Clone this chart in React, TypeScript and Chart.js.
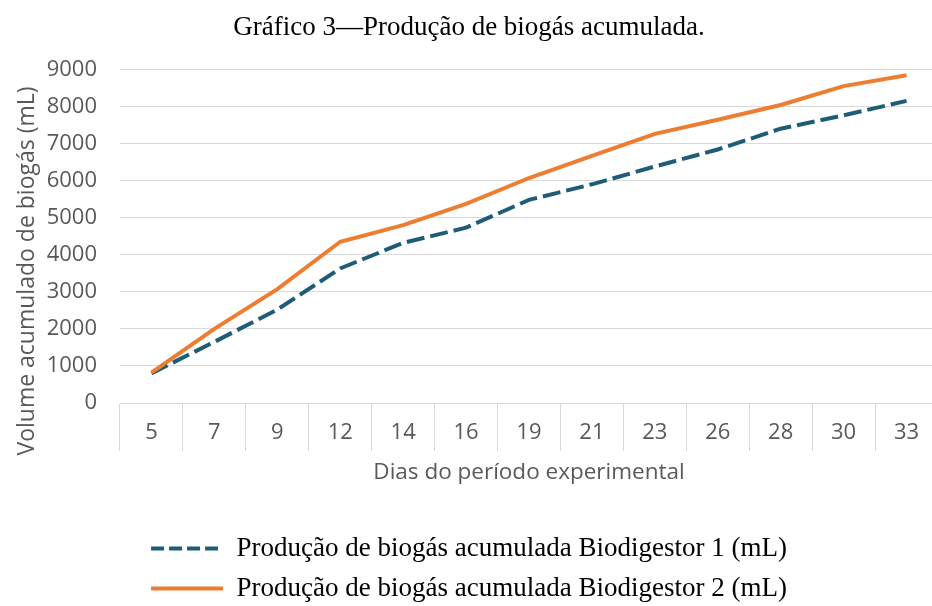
import React, { useEffect, useRef } from "react";
import { Chart, registerables } from "chart.js";

Chart.register(...registerables);

const days = ["5", "7", "9", "12", "14", "16", "19", "21", "23", "26", "28", "30", "33"];
const biodigestor1 = [800, 1650, 2520, 3630, 4320, 4730, 5480, 5900, 6380, 6840, 7400, 7760, 8150];
const biodigestor2 = [820, 2000, 3070, 4350, 4800, 5370, 6070, 6670, 7260, 7640, 8040, 8550, 8840];
const seriesNames = [
  "Produção de biogás acumulada Biodigestor 1 (mL)",
  "Produção de biogás acumulada Biodigestor 2 (mL)",
];
const chartTitle = "Gráfico 3—Produção de biogás acumulada.";
const xTitle = "Dias do período experimental";
const yTitle = "Volume acumulado de biogás (mL)";

const GRAY = "#595959";
const GRID = "#d9d9d9";
const BLUE = "#1E5C77";
const ORANGE = "#ED7D31";
const SANS = "'Open Sans', sans-serif";
const SERIF = "'Liberation Serif', 'Times New Roman', serif";

const yTitlePlugin = {
  id: "yTitlePlugin",
  afterDraw(chart: any) {
    const ctx = chart.ctx;
    ctx.save();
    ctx.translate(27, 271);
    ctx.rotate(-Math.PI / 2);
    ctx.font = `normal 23px ${SANS}`;
    ctx.fillStyle = GRAY;
    ctx.textAlign = "center";
    ctx.textBaseline = "middle";
    ctx.fillText(yTitle, 0, 0);
    ctx.restore();
  },
};

export default function App() {
  const ref = useRef<HTMLCanvasElement | null>(null);

  useEffect(() => {
    document.body.style.margin = "0";
    document.body.style.overflow = "hidden";
    const canvas = ref.current;
    if (!canvas) return;
    const chart = new Chart(canvas, {
      type: "line",
      data: {
        labels: days,
        datasets: [
          {
            label: seriesNames[0],
            data: biodigestor1,
            borderColor: BLUE,
            backgroundColor: BLUE,
            borderWidth: 4,
            borderDash: [18, 6],
            pointRadius: 0,
            tension: 0,
            order: 1,
          },
          {
            label: seriesNames[1],
            data: biodigestor2,
            borderColor: ORANGE,
            backgroundColor: ORANGE,
            borderWidth: 4,
            pointRadius: 0,
            tension: 0,
            order: 0,
          },
        ],
      },
      plugins: [yTitlePlugin],
      options: {
        animation: false,
        responsive: false,
        maintainAspectRatio: false,
        layout: { padding: { left: 0, right: 2, top: 0, bottom: 0 } },
        plugins: {
          tooltip: { enabled: false },
          title: {
            display: true,
            text: chartTitle,
            color: "#000000",
            font: { family: SERIF, size: 27, weight: "normal" },
            padding: { top: 12, bottom: 25 },
          },
          legend: {
            position: "bottom",
            labels: {
              usePointStyle: true,
              pointStyle: "line",
              pointStyleWidth: 72,
              color: "#000000",
              padding: 13,
              font: { family: SERIF, size: 27 },
              sort: (a: any, b: any) => a.datasetIndex - b.datasetIndex,
              generateLabels: (c: any) => {
                const items = Chart.defaults.plugins.legend.labels.generateLabels(c);
                items.forEach((it: any) => {
                  if (it.datasetIndex === 0) it.lineDash = [13, 5];
                  it.lineWidth = 4;
                });
                return items;
              },
            },
          },
        },
        scales: {
          x: {
            type: "category",
            offset: true,
            grid: {
              offset: true,
              drawOnChartArea: false,
              drawTicks: true,
              tickLength: 48,
              color: GRID,
              lineWidth: 1,
            },
            border: { display: true, color: GRID },
            ticks: {
              color: GRAY,
              font: { family: SANS, size: 22 },
              padding: -31,
              maxRotation: 0,
            },
            title: {
              display: true,
              text: xTitle,
              color: GRAY,
              font: { family: SANS, size: 22.5 },
              padding: { top: 46, bottom: 36 },
            },
            afterFit: (scale: any) => {
              scale.height = 119;
            },
          },
          y: {
            min: 0,
            max: 9000,
            ticks: {
              stepSize: 1000,
              color: GRAY,
              font: { family: SANS, size: 22 },
              padding: 23,
              callback: (v: any) => String(v),
            },
            grid: { color: GRID, lineWidth: 1, drawTicks: false },
            border: { display: false },
            title: { display: false },
            afterFit: (scale: any) => {
              scale.width = 120;
            },
          },
        },
      },
    });
    return () => chart.destroy();
  }, []);

  return (
    <div style={{ position: "fixed", left: 0, top: 0, width: 940, height: 612 }}>
      <canvas ref={ref} width={940} height={612} style={{ width: 940, height: 612, display: "block" }} />
    </div>
  );
}
